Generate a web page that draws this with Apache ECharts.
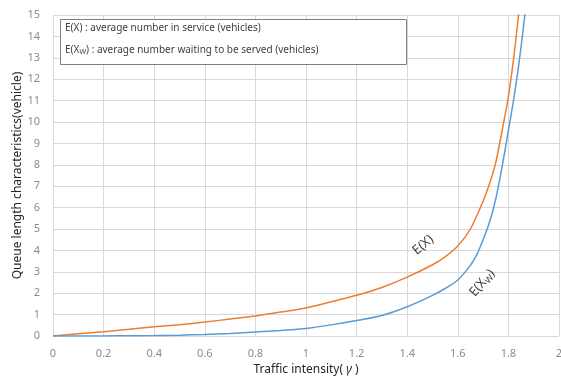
<!DOCTYPE html>
<html>
<head>
<meta charset="utf-8">
<script src="https://cdn.jsdelivr.net/npm/echarts@6/dist/echarts.min.js"></script>
<style>
  html, body { margin: 0; padding: 0; background: #fff; }
  #chart { width: 561px; height: 378px; }
</style>
</head>
<body>
<div id="chart"></div>
<script>
// E(X) - average number in service
const exGamma = [0, 0.1, 0.2, 0.3, 0.4, 0.5, 0.6, 0.7, 0.8, 0.9, 1.0, 1.1, 1.2, 1.3, 1.4, 1.5, 1.55, 1.6, 1.65, 1.7, 1.725, 1.75, 1.78, 1.8, 1.82, 1.84, 1.86];
const exValues = [0, 0.1, 0.2, 0.31, 0.43, 0.53, 0.65, 0.79, 0.94, 1.12, 1.31, 1.6, 1.9, 2.27, 2.75, 3.33, 3.7, 4.2, 5.0, 6.3, 7.1, 8.1, 9.9, 11.2, 12.9, 15.0, 17.5];

// E(Xw) - average number waiting to be served
const ewGamma = [0, 0.1, 0.2, 0.3, 0.4, 0.5, 0.6, 0.7, 0.8, 0.9, 1.0, 1.1, 1.2, 1.3, 1.4, 1.5, 1.55, 1.6, 1.65, 1.675, 1.7, 1.725, 1.75, 1.775, 1.8, 1.82, 1.84, 1.865, 1.89];
const ewValues = [0, 0, 0.003, 0.01, 0.02, 0.04, 0.07, 0.12, 0.19, 0.26, 0.35, 0.52, 0.72, 0.96, 1.37, 1.9, 2.22, 2.62, 3.3, 3.8, 4.5, 5.3, 6.4, 7.9, 9.6, 11.0, 12.6, 15.0, 18.0];

// curve label anchors (data coords)
const exLabelAt = [1.463, 4.25];
const ewLabelAt = [1.696, 2.48];

const font = "'Noto Sans', sans-serif";
const textDark = "#404040";

const toPairs = (xs, ys) => xs.map((x, i) => [x, ys[i]]);

const chart = echarts.init(document.getElementById("chart"));

const option = {
  animation: false,
  textStyle: { fontFamily: font },
  grid: { left: 53, right: 2, top: 15, bottom: 42, outerBoundsMode: "none" },
  xAxis: {
    type: "value",
    min: 0,
    max: 2,
    interval: 0.2,
    name: "Traffic intensity( {g|γ} )",
    nameLocation: "middle",
    nameGap: 28,
    nameMoveOverlap: false,
    nameTextStyle: {
      color: "#262626",
      fontSize: 12,
      fontFamily: font,
      rich: { g: { fontStyle: "italic", fontSize: 12, color: "#262626" } },
    },
    axisLine: { show: false },
    axisTick: { show: false },
    axisLabel: { color: "#8c8c8c", fontSize: 11, margin: 12 },
    splitLine: { show: true, lineStyle: { color: "#d9d9d9", width: 1 } },
  },
  yAxis: {
    type: "value",
    min: 0,
    max: 15,
    interval: 1,
    name: "Queue length characteristics(vehicle)",
    nameLocation: "middle",
    nameGap: 29,
    nameMoveOverlap: false,
    nameTextStyle: { color: "#262626", fontSize: 12, fontFamily: font },
    axisLine: { show: false },
    axisTick: { show: false },
    axisLabel: { color: "#8c8c8c", fontSize: 11, margin: 13 },
    splitLine: { show: true, lineStyle: { color: "#d9d9d9", width: 1 } },
  },
  series: [
    {
      name: "E(X)",
      type: "line",
      data: toPairs(exGamma, exValues),
      smooth: 0.25,
      symbol: "none",
      lineStyle: { color: "#ED7D31", width: 1.5 },
      markPoint: {
        symbol: "circle",
        symbolSize: 0,
        data: [{ coord: exLabelAt }],
        label: {
          show: true,
          formatter: "E(X)",
          rotate: 40,
          color: textDark,
          fontSize: 13,
          fontFamily: font,
        },
      },
    },
    {
      name: "E(Xw)",
      type: "line",
      data: toPairs(ewGamma, ewValues),
      smooth: 0.25,
      symbol: "none",
      lineStyle: { color: "#5B9BD5", width: 1.5 },
      markPoint: {
        symbol: "circle",
        symbolSize: 0,
        data: [{ coord: ewLabelAt }],
        label: {
          show: true,
          formatter: "E(X{s|W})",
          rotate: 50,
          color: textDark,
          fontSize: 13,
          fontFamily: font,
          rich: { s: { fontSize: 9, color: textDark, padding: [7, 0, 0, 0] } },
        },
      },
    },
  ],
  graphic: [
    {
      type: "rect",
      left: 60,
      top: 19,
      shape: { width: 346, height: 45 },
      style: { fill: "#fff", stroke: "#7f7f7f", lineWidth: 1 },
      z: 10,
    },
    {
      type: "text",
      left: 65,
      top: 23,
      z: 11,
      style: {
        text: "E(X) : average number in service (vehicles)",
        fill: textDark,
        font: "10px " + font,
      },
    },
    {
      type: "text",
      left: 65,
      top: 45,
      z: 11,
      style: {
        text: "E(X{s|W}) : average number waiting to be served (vehicles)",
        fill: textDark,
        font: "10px " + font,
        rich: { s: { fontSize: 7, fill: textDark, padding: [5, 0, 0, 0] } },
      },
    },
  ],
};

chart.setOption(option);
</script>
</body>
</html>
